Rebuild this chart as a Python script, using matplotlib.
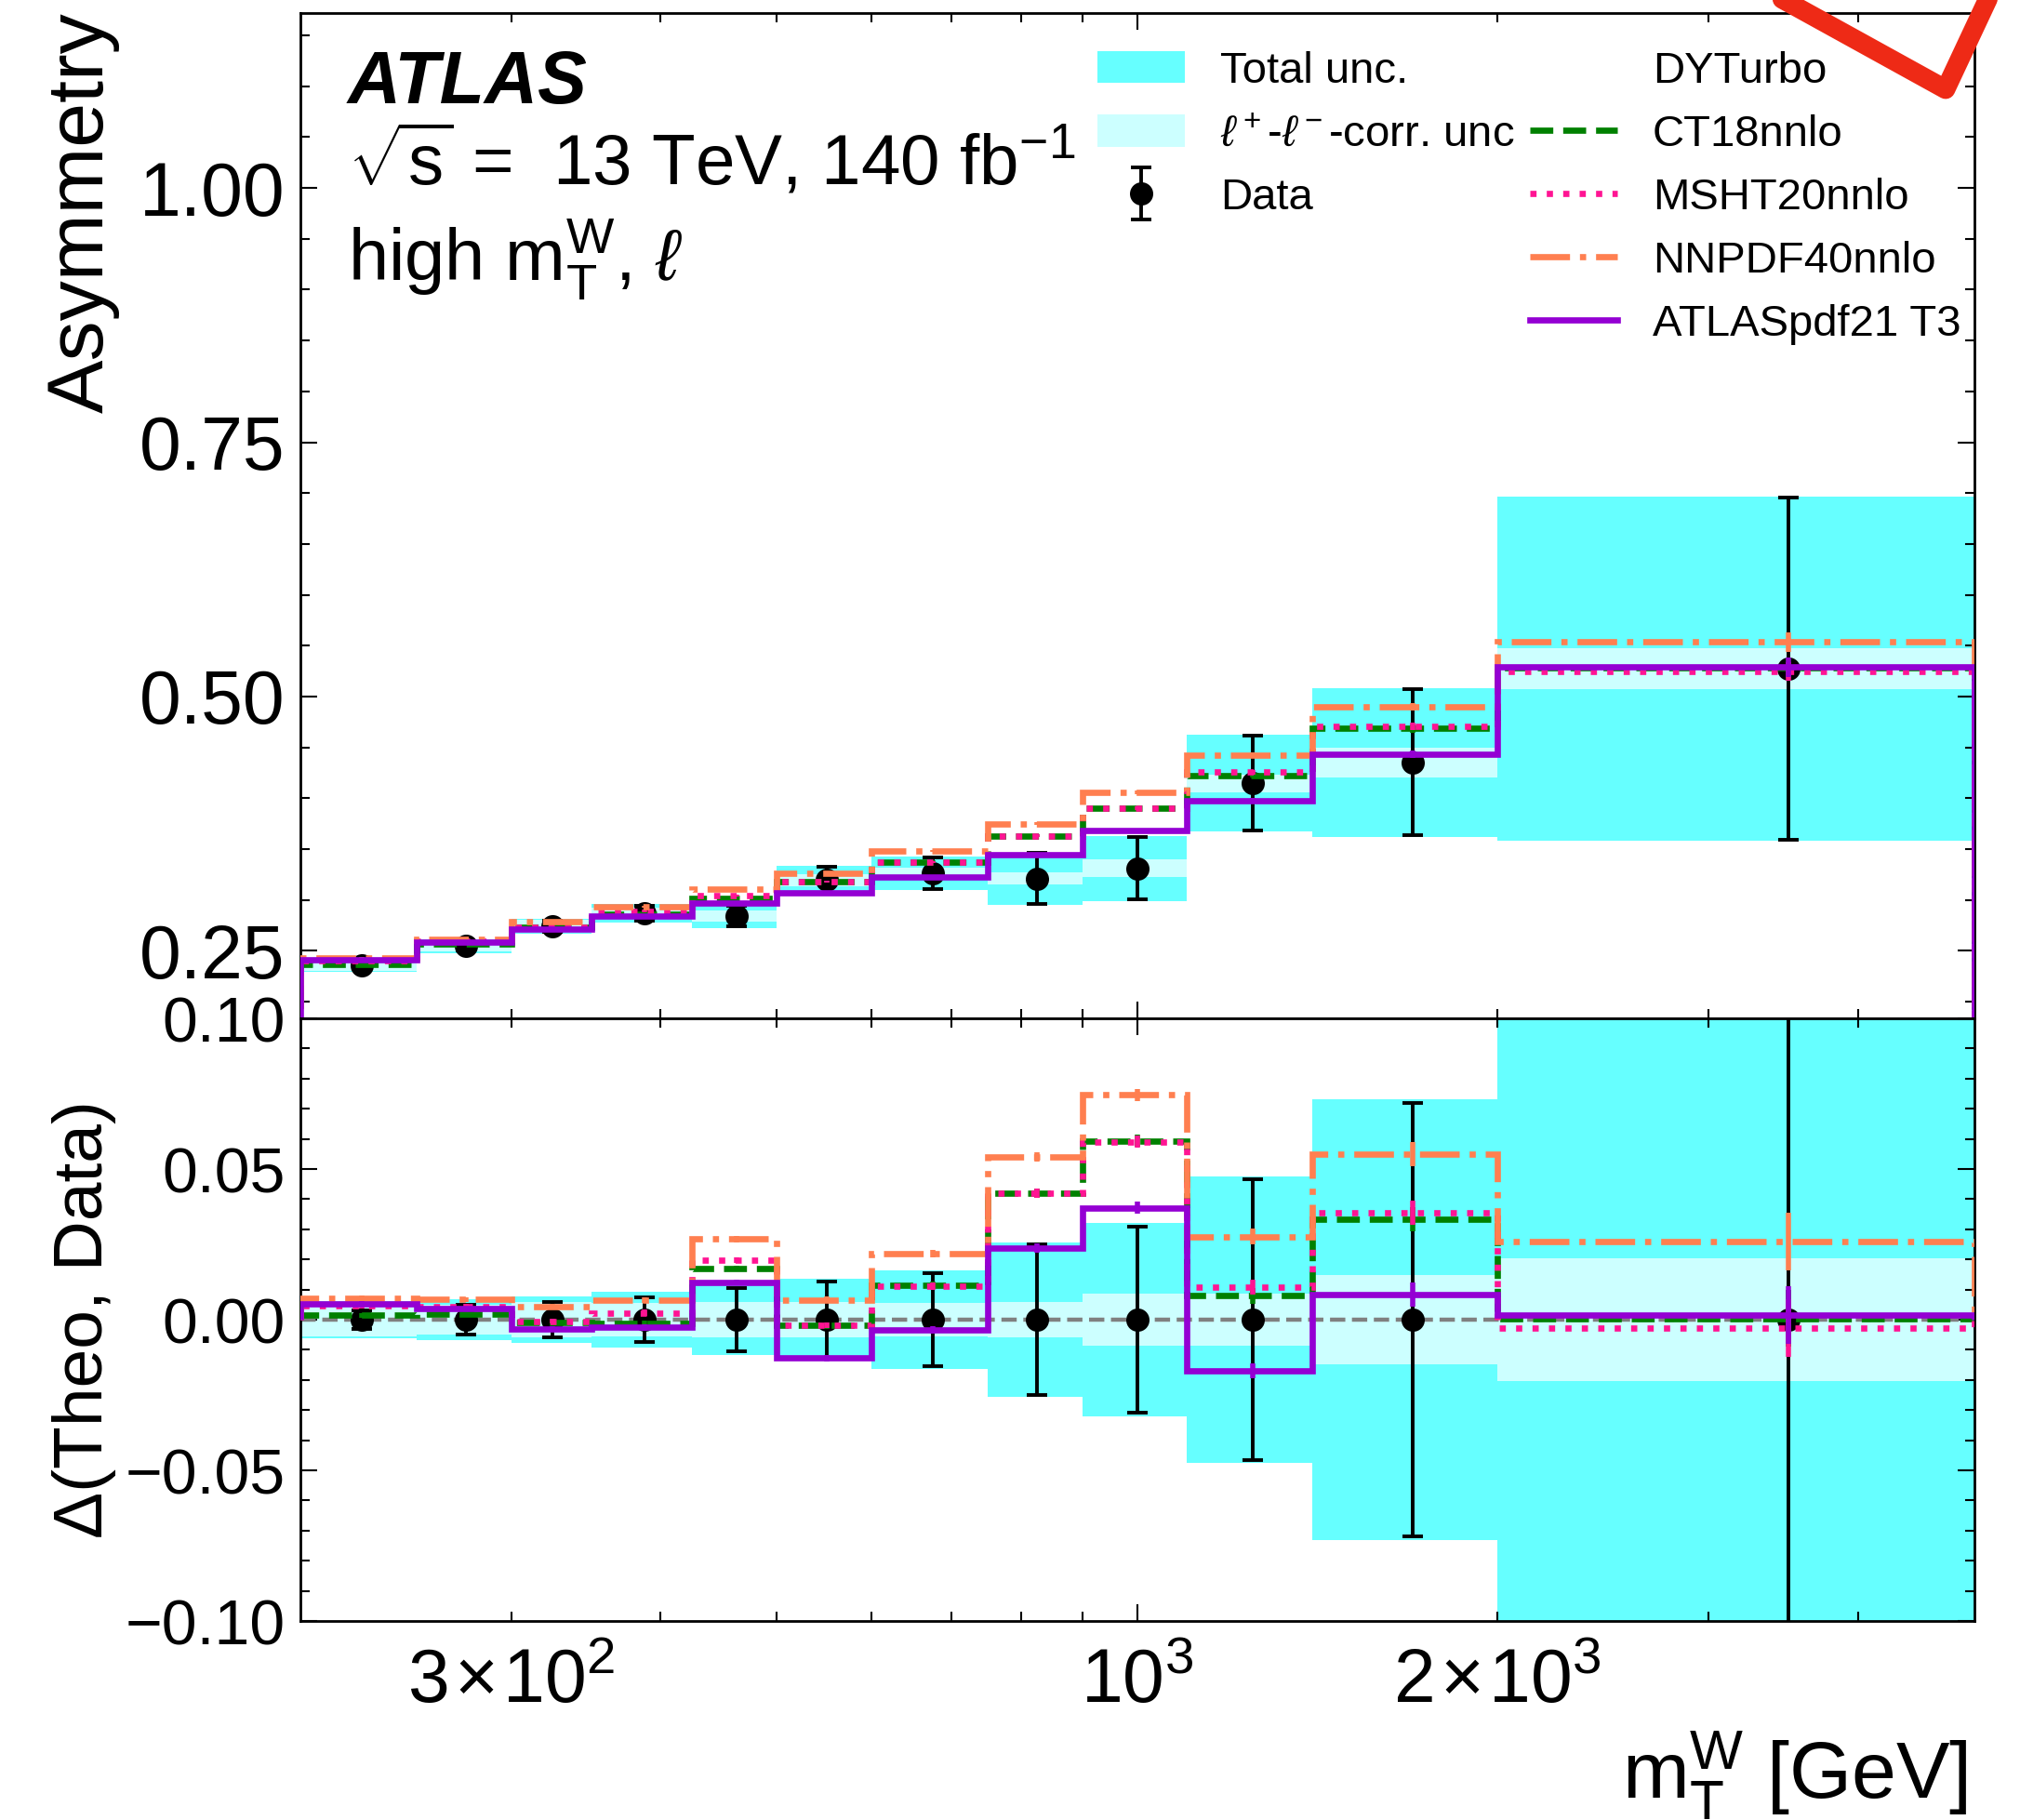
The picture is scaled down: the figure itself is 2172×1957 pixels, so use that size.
import matplotlib
matplotlib.use("Agg")
import matplotlib.pyplot as plt
import numpy as np
from matplotlib.lines import Line2D
from matplotlib.patches import Patch
from matplotlib.legend_handler import HandlerErrorbar
from matplotlib.ticker import FixedLocator, FuncFormatter, MultipleLocator

plt.rcParams['font.family'] = ['Liberation Sans', 'DejaVu Sans']
plt.rcParams['mathtext.fontset'] = 'custom'
plt.rcParams['mathtext.rm'] = 'Liberation Sans'
plt.rcParams['mathtext.it'] = 'Liberation Sans:italic'
plt.rcParams['mathtext.bf'] = 'Liberation Sans:bold'

# m_T^W bin edges [GeV]
edges = np.array([200, 250, 300, 350, 425, 500, 600, 750, 900, 1100, 1400, 2000, 5000])

# measured lepton charge asymmetry
data = np.array([0.2354, 0.2546, 0.2740, 0.2868, 0.2842, 0.3197,
                 0.3260, 0.3210, 0.3311, 0.4147, 0.4350, 0.5275])
data_err = np.array([0.0031, 0.0048, 0.0058, 0.0073, 0.0104, 0.0128,
                     0.0155, 0.0250, 0.0310, 0.0466, 0.0718, 0.1680])

# uncertainty bands (half widths)
tot_unc = np.array([0.0063, 0.0069, 0.0077, 0.0092, 0.0118, 0.0136,
                    0.0164, 0.0255, 0.0320, 0.0475, 0.0733, 0.1690])
corr_unc = np.array([0.0057, 0.0050, 0.0060, 0.0056, 0.0058, 0.0060,
                     0.0055, 0.0060, 0.0087, 0.0087, 0.0147, 0.0204])

# DYTurbo predictions with different PDF sets
ct18 = np.array([0.2369, 0.2566, 0.2730, 0.2856, 0.3012, 0.3177,
                 0.3375, 0.3630, 0.3904, 0.4226, 0.4684, 0.5279])
msht20 = np.array([0.2400, 0.2590, 0.2735, 0.2891, 0.3039, 0.3179,
                   0.3370, 0.3630, 0.3901, 0.4254, 0.4706, 0.5247])
nnpdf40 = np.array([0.2426, 0.2613, 0.2784, 0.2933, 0.3109, 0.3263,
                    0.3480, 0.3750, 0.4057, 0.4423, 0.4898, 0.5535])
atlaspdf21 = np.array([0.2407, 0.2582, 0.2710, 0.2842, 0.2965, 0.3069,
                       0.3227, 0.3447, 0.3682, 0.3978, 0.4432, 0.5290])
theo_err = np.array([0.0008, 0.0008, 0.0008, 0.0010, 0.0010, 0.0010,
                     0.0012, 0.0015, 0.0020, 0.0025, 0.0040, 0.0095])

predictions = [
    ("CT18nnlo", ct18, "green", "--"),
    ("MSHT20nnlo", msht20, "deeppink", ":"),
    ("NNPDF40nnlo", nnpdf40, "coral", "-."),
    ("ATLASpdf21 T3", atlaspdf21, "darkviolet", "-"),
]

centers = 0.5 * (edges[:-1] + edges[1:])
c_tot = "#66ffff"
c_corr = "#ccffff"
lw_theo = 2.4
err_kw = dict(fmt='o', color='black', ms=8, capsize=4, elinewidth=1.4,
              capthick=1.4, zorder=3)

fig = plt.figure(figsize=(10.86, 9.785), dpi=200)
ax1 = fig.add_axes([0.14871, 0.44047, 0.82850, 0.55263])
ax2 = fig.add_axes([0.14871, 0.10935, 0.82850, 0.33112])

# --- upper panel: asymmetry ---
ax1.stairs(data + tot_unc, edges, baseline=data - tot_unc, fill=True,
           color=c_tot, lw=0, zorder=1)
ax1.stairs(data + corr_unc, edges, baseline=data - corr_unc, fill=True,
           color=c_corr, lw=0, zorder=1.5)
data_handle = ax1.errorbar(centers, data, yerr=data_err, **err_kw)
for name, vals, col, ls in predictions:
    ax1.stairs(vals, edges, baseline=0, color=col, ls=ls, lw=lw_theo, zorder=4)
    ax1.errorbar(centers, vals, yerr=theo_err, fmt='none', ecolor=col,
                 elinewidth=2.0, capsize=0, zorder=4)

ax1.set_ylim(0.1835, 1.1725)
ax1.yaxis.set_major_locator(MultipleLocator(0.25))
ax1.yaxis.set_minor_locator(MultipleLocator(0.05))

ax1.text(0.0283, 0.9098, 'ATLAS', transform=ax1.transAxes, fontsize=28.5,
         fontweight='bold', fontstyle='italic')
ax1.text(0.0283, 0.8294, r'$\sqrt{\mathrm{s}}$ =  13 TeV, 140 fb$^{-1}$',
         transform=ax1.transAxes, fontsize=27.5)
ax1.text(0.0283, 0.7333, r'high m$_\mathrm{T}^\mathrm{W}$, $\ell$',
         transform=ax1.transAxes, fontsize=28)

blank = Line2D([], [], color='none')
handles = [Patch(color=c_tot, lw=0), Patch(color=c_corr, lw=0), data_handle, blank, blank,
           blank]
labels = ['Total unc.', r'$\ell^+$-$\ell^-$-corr. unc', 'Data', '', '', 'DYTurbo']
for name, vals, col, ls in predictions:
    handles.append(Line2D([], [], color=col, ls=ls, lw=lw_theo))
    labels.append(name)
ax1.legend(handles, labels, ncol=2, loc='upper left', bbox_to_anchor=(0.476, 0.962),
           frameon=False, fontsize=17, handlelength=2.0, handleheight=0.75,
           handletextpad=0.8, columnspacing=0.35, labelspacing=0.51,
           borderpad=0, borderaxespad=0,
           handler_map={type(data_handle): HandlerErrorbar(yerr_size=0.6)})

ax1.set_ylabel('Asymmetry', fontsize=31, loc='top')
ax1.yaxis.set_label_coords(-0.108, 1.0)

# --- lower panel: theory minus data ---
ax2.stairs(tot_unc, edges, baseline=-tot_unc, fill=True, color=c_tot, lw=0, zorder=1)
ax2.stairs(corr_unc, edges, baseline=-corr_unc, fill=True, color=c_corr, lw=0, zorder=1.5)
ax2.axhline(0, color='gray', ls='--', lw=1.6, zorder=2.5)
ax2.errorbar(centers, np.zeros_like(data), yerr=data_err, **err_kw)
for name, vals, col, ls in predictions:
    diff = vals - data
    ax2.stairs(diff, edges, baseline=0, color=col, ls=ls, lw=lw_theo, zorder=4)
    ax2.errorbar(centers, diff, yerr=theo_err, fmt='none', ecolor=col,
                 elinewidth=2.0, capsize=0, zorder=4)

ax2.set_ylim(-0.1, 0.1)
ax2.yaxis.set_major_locator(MultipleLocator(0.05))
ax2.yaxis.set_minor_locator(MultipleLocator(0.01))
ax2.set_ylabel('\u0394(Theo, Data)', fontsize=27)
ax2.yaxis.set_label_coords(-0.110, 0.5)
ax2.set_xlabel(r'm$_\mathrm{T}^\mathrm{W}$ [GeV]', fontsize=31, loc='right')
ax2.xaxis.set_label_coords(0.996, -0.18)


def fmt_y(v, pos):
    s = f"{v:.2f}"
    if s == "-0.00":
        s = "0.00"
    return s.replace('-', '\u2212')


minor_x = [300, 400, 500, 600, 700, 800, 900, 2000, 3000, 4000]
minor_labels = {300: r'$3\hspace{0.08}{\times}\hspace{0.08}10^{2}$',
                2000: r'$2\hspace{0.08}{\times}\hspace{0.08}10^{3}$'}

for ax in (ax1, ax2):
    ax.set_xscale('log')
    ax.set_xlim(200, 5000)
    ax.xaxis.set_major_locator(FixedLocator([1000]))
    ax.xaxis.set_minor_locator(FixedLocator(minor_x))
    ax.yaxis.set_major_formatter(FuncFormatter(fmt_y))
    ax.tick_params(which='both', direction='in', top=True, right=True, labelsize=29)
    ax.tick_params(which='major', length=6.5, width=0.75)
    ax.tick_params(which='minor', length=3.6, width=0.75)
    ax.tick_params(axis='y', pad=6)
    for sp in ax.spines.values():
        sp.set_linewidth(1.0)

ax1.tick_params(axis='x', which='both', labelbottom=False)
ax2.tick_params(axis='y', labelsize=24.5)
ax2.xaxis.set_major_formatter(FuncFormatter(lambda v, p: r'$10^{3}$'))
ax2.xaxis.set_minor_formatter(FuncFormatter(lambda v, p: minor_labels.get(int(round(v)), '')))
ax2.tick_params(axis='x', which='both', pad=10)

# red pen stroke across the top right corner
px = np.array([1900, 2092, 2137, 2150])
py = np.array([-10, 96, 0, -25])
fig.add_artist(Line2D(px / 2172, 1 - py / 1957, transform=fig.transFigure,
                      color='#ee2a16', lw=7.5, solid_capstyle='round',
                      solid_joinstyle='round', clip_on=False, zorder=10))

fig.savefig('out.png', dpi=200)
